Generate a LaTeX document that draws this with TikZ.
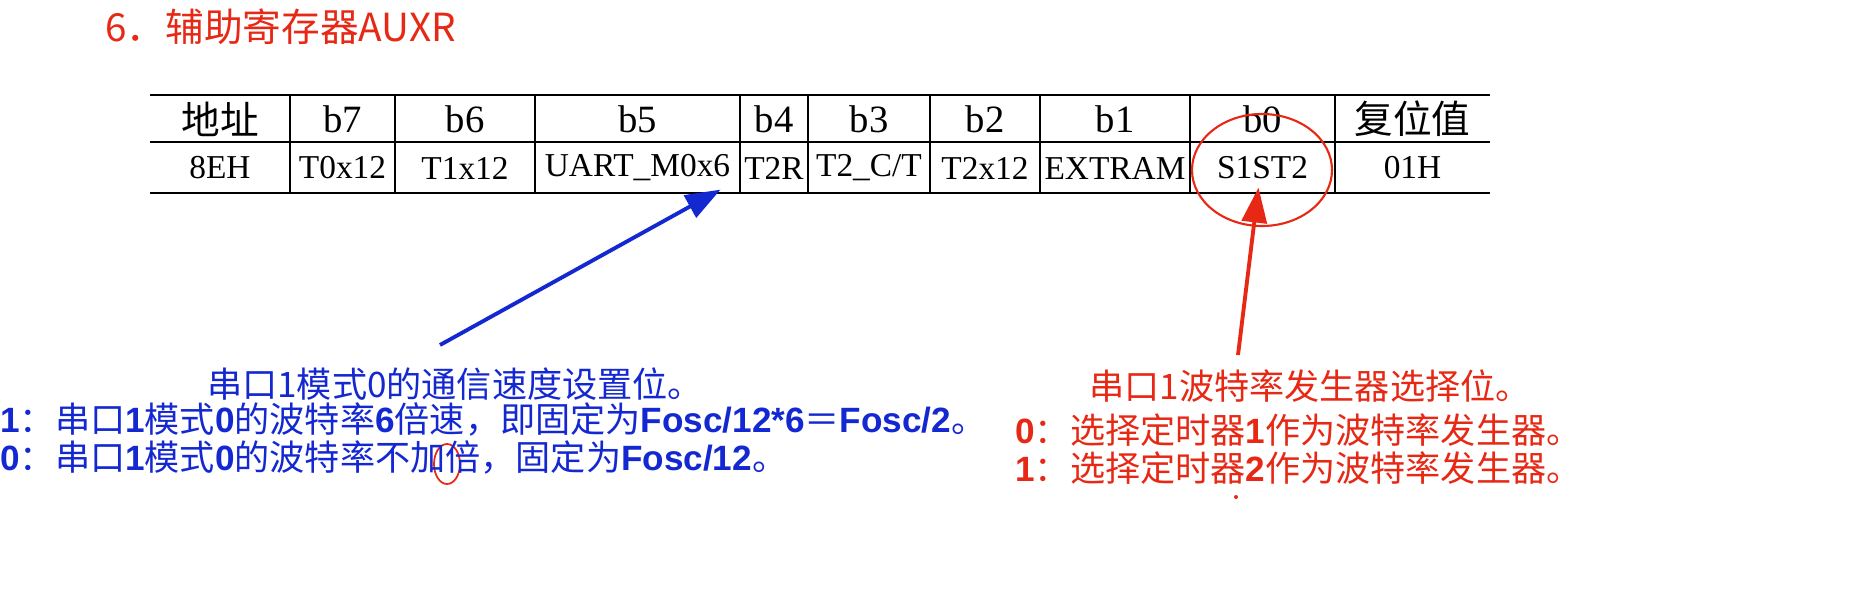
\documentclass[tikz,border=0pt]{standalone}
\usepackage{fontspec}
\setmainfont{Liberation Serif}
\newfontfamily\cjk{Noto Sans CJK SC}
\newfontfamily\lat{Liberation Sans}
\usetikzlibrary{positioning, calc, arrows.meta}
\definecolor{myred}{RGB}{230,40,20}
\definecolor{myblue}{RGB}{20,40,210}
\tikzset{%
	cell/.style={inner sep=0pt, font=\fontsize{22}{23}\selectfont},
	note/.style={inner sep=0pt, anchor=west, font=\cjk\fontsize{20}{22}\selectfont},
	pointer/.style={-{Triangle[length=7mm,width=5mm]}, line width=2.2pt}
}
\newcommand{\B}[1]{{\lat\bfseries #1}}

\begin{document}
\begin{tikzpicture}[x=0.02cm, y=-0.02cm]
	\useasboundingbox (0,0) rectangle (1850,599);
	%title
	\node [anchor=west, inner sep=0pt, text=myred, font=\cjk\fontsize{22}{23}\selectfont] (title) at (105,27) {6．辅助寄存器AUXR};
	%table rules
	\draw [line width=1.3pt] (150,95) -- (1490,95) (150,142) -- (1490,142) (150,193) -- (1490,193);
	\foreach \x in {290,395,535,740,808,930,1040,1190,1335}
		\draw [line width=0.8pt] (\x,95) -- (\x,193);
	%cells
	\foreach \a/\b/\top/\bot/\n in {150/290/{\cjk 地址}/8EH/a, 290/395/b7/T0x12/b7, 395/535/b6/T1x12/b6,
		535/740/b5/UART\_M0x6/b5, 740/808/b4/T2R/b4, 808/930/b3/{T2\_C/T}/b3, 930/1040/b2/T2x12/b2,
		1040/1190/b1/EXTRAM/b1, 1190/1335/b0/S1ST2/b0, 1335/1490/{\cjk 复位值}/01H/r}
	{
		\node [cell] (h\n) at ({(\a+\b)/2},119) {\top};
		\node [cell, font=\fontsize{19}{20}\selectfont] (v\n) at ({(\a+\b)/2},168) {\bot};
	}
	%circles
	\draw [myred, line width=1.2pt] (1262,170) ellipse [x radius=70, y radius=56];
	\draw [myred, line width=1pt] (447,464) ellipse [x radius=13, y radius=20];
	\fill [myred] (1236,497) circle (2);
	%notes
	\node [note, anchor=center, text=myblue] (bt) at (455,384) {串口1模式0的通信速度设置位。};
	\node [note, text=myblue] (b1) at (0,419) {\B{1}：串口\B{1}模式\B{0}的波特率\B{6}倍速，即固定为\B{Fosc/12*6}＝\B{Fosc/2}。};
	\node [note, text=myblue] (b0) at (0,457) {\B{0}：串口\B{1}模式\B{0}的波特率不加倍，固定为\B{Fosc/12}。};
	\node [note, anchor=center, text=myred] (rt) at (1310,386) {串口1波特率发生器选择位。};
	\node [note, text=myred] (r0) at (1015,430) {\B{0}：选择定时器\B{1}作为波特率发生器。};
	\node [note, text=myred] (r1) at (1015,468) {\B{1}：选择定时器\B{2}作为波特率发生器。};
	%arrows
	\coordinate (bs) at (440,345);
	\coordinate (rs) at (1238,355);
	\draw [pointer, myblue] (bs) -- ($(vb5.south east)+(-10,8)$);
	\draw [pointer, myred] (rs) -- ($(vb0.south)+(-4,8)$);
\end{tikzpicture}
\end{document}
